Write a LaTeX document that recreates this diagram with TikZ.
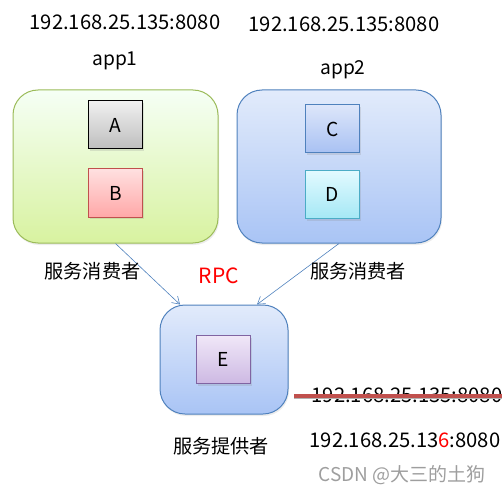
\documentclass[tikz,border=0pt]{standalone}
\usepackage{fontspec}
\setmainfont{Noto Sans CJK SC}
\usetikzlibrary{arrows.meta}
\usetikzlibrary{positioning}
\usetikzlibrary{shadows}
\definecolor{mgreen}{RGB}{155, 187, 89}
\definecolor{mblue}{RGB}{79, 129, 189}
\definecolor{mred}{RGB}{192, 80, 77}
\definecolor{mcyan}{RGB}{75, 172, 198}
\definecolor{mpurple}{RGB}{128, 100, 162}

\begin{document}
\begin{tikzpicture}[x=1pt, y=-1pt,
    font=\fontsize{19.2}{23}\selectfont,
    ip/.style={font=\fontsize{20.2}{24}\selectfont},
    container/.style={draw, line width=1pt, rounded corners=25pt, inner sep=0pt,
      drop shadow={opacity=0.15, shadow xshift=1pt, shadow yshift=-2pt}},
    appbox/.style={draw, line width=1pt, inner sep=0pt, minimum width=54pt, minimum height=48pt,
      drop shadow={opacity=0.2, shadow xshift=1pt, shadow yshift=-2pt}},
    link/.style={draw=mblue, line width=0.6pt, -{Straight Barb[length=7pt, width=9pt]}},
    strike/.style={draw=mred, line width=3.5pt,
      preaction={draw=black!30, line width=3.5pt, transform canvas={yshift=-1.5pt}}}]
      \useasboundingbox (0, 0) rectangle (502, 494);

      % the two consumers
      \node [container, draw=mgreen, top color=green!4!white!96, bottom color={rgb,255:red,216;green,242;blue,160},
             minimum width=205pt, minimum height=153pt] (app1) at (115.5, 166.5) {};
      \node [container, draw=mblue, top color={rgb,255:red,226;green,235;blue,251}, bottom color={rgb,255:red,169;green,196;blue,245},
             minimum width=204pt, minimum height=153pt] (app2) at (339, 166.5) {};

      \node [appbox, draw=black, top color={rgb,255:red,240;green,240;blue,240}, bottom color={rgb,255:red,190;green,190;blue,190}] (a) at (115.5, 125) {A};
      \node [appbox, draw=mred, top color={rgb,255:red,255;green,224;blue,224}, bottom color={rgb,255:red,255;green,168;blue,168}] (b) at (115.5, 193) {B};
      \node [appbox, draw=mblue, top color={rgb,255:red,221;green,230;blue,250}, bottom color={rgb,255:red,168;green,193;blue,243}] (c) at (332.5, 129) {C};
      \node [appbox, draw=mcyan, top color={rgb,255:red,226;green,250;blue,255}, bottom color={rgb,255:red,165;green,232;blue,245}] (d) at (332.5, 194.5) {D};

      % the provider
      \node [container, draw=mblue, top color={rgb,255:red,226;green,235;blue,251}, bottom color={rgb,255:red,169;green,196;blue,245},
             minimum width=128pt, minimum height=109pt] (eapp) at (224, 359.5) {};
      \node [appbox, draw=mpurple, top color={rgb,255:red,240;green,232;blue,248}, bottom color={rgb,255:red,205;green,184;blue,227}] (e) at (223.5, 359.5) {E};

      \draw [link] (app1.south) -- ([xshift=-44pt]eapp.north);
      \draw [link] (app2.south) -- ([xshift=33pt]eapp.north);

      % labels
      \node [ip] (ip1) at (125, 22) {192.168.25.135:8080};
      \node [ip] (ip2) at (344, 24) {192.168.25.135:8080};
      \node (name1) at (115, 61) {app1};
      \node (name2) at (343, 70) {app2};
      \node (use1) at (92.5, 271) {服务消费者};
      \node [text=red, font=\fontsize{21}{25}\selectfont] (rpc) at (219, 276) {RPC};
      \node (use2) at (358, 271) {服务消费者};
      \node (give) at (221, 446) {服务提供者};

      \node [ip] (oldip) at (407, 395) {192.168.25.135:8080};
      \draw [strike] ([xshift=-14pt, yshift=-1pt]oldip.west) -- ([xshift=10pt, yshift=-1pt]oldip.east);
      \node [ip] (newip) at (405, 440) {192.168.25.13\textcolor{red}{6}:8080};
      \node [text=black!38, font=\fontsize{19}{22}\selectfont] (mark) at (402, 475) {CSDN @大三的土狗};
    \end{tikzpicture}
\end{document}
